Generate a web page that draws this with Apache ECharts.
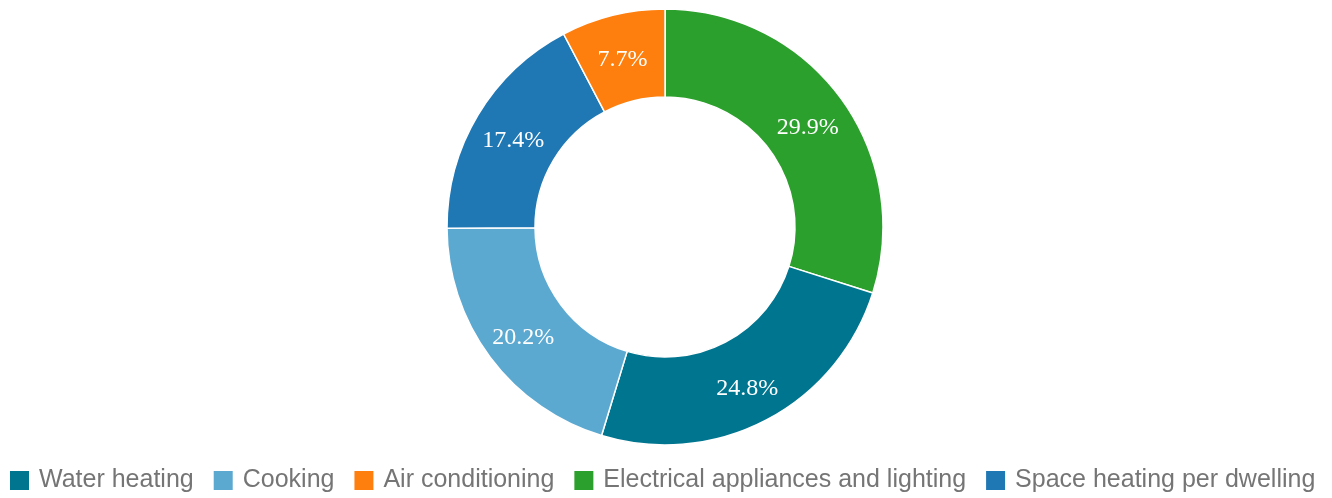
<!DOCTYPE html>
<html>
<head>
<meta charset="utf-8">
<script src="https://cdn.jsdelivr.net/npm/echarts@6/dist/echarts.min.js"></script>
<style>
html,body{margin:0;padding:0;background:#fff;}
#chart{width:1332px;height:498px;}
</style>
</head>
<body>
<div id="chart"></div>
<script>
const categories = ["Electrical appliances and lighting", "Water heating", "Cooking", "Space heating per dwelling", "Air conditioning"];
const values = [29.9, 24.8, 20.2, 17.4, 7.7];
const colors = ["#2ca02c", "#00758f", "#5ba8d1", "#1f77b4", "#ff7f0e"];
const legendOrder = ["Water heating", "Cooking", "Air conditioning", "Electrical appliances and lighting", "Space heating per dwelling"];

const chart = echarts.init(document.getElementById('chart'));
chart.setOption({
  animation: false,
  legend: {
    data: legendOrder,
    top: 468,
    left: 8,
    padding: 0,
    itemWidth: 21,
    itemHeight: 21,
    itemGap: 18,
    icon: 'rect',
    textStyle: { fontFamily: 'Liberation Sans, Arial, sans-serif', fontSize: 25, color: '#757575', padding: [0, 0, 0, 4] }
  },
  series: [{
    type: 'pie',
    center: [665, 227],
    radius: [130, 218],
    startAngle: 90,
    clockwise: true,
    itemStyle: { borderColor: '#fff', borderWidth: 1.5 },
    label: {
      position: 'inside',
      formatter: p => p.value.toFixed(1) + '%',
      color: '#fff',
      fontFamily: 'Liberation Serif, Times New Roman, serif',
      fontSize: 24,
      offset: [0, 5]
    },
    labelLine: { show: false },
    data: categories.map((c, i) => ({ name: c, value: values[i], itemStyle: { color: colors[i] } }))
  }]
});
</script>
</body>
</html>
